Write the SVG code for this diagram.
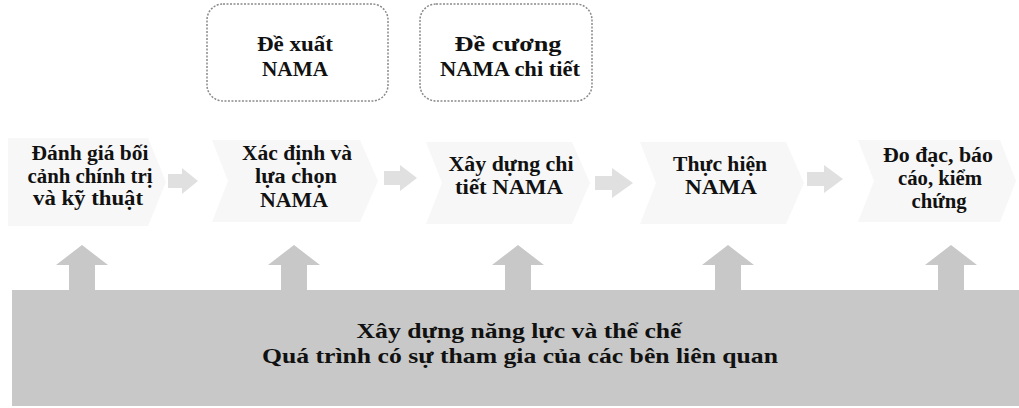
<svg xmlns="http://www.w3.org/2000/svg" width="1019" height="408" viewBox="0 0 1019 408">
<defs>
<style>
.t{font-family:"Liberation Serif","Times New Roman",serif;font-weight:bold;fill:#111111;text-anchor:middle}
.n{font-size:20px}
.b{font-size:21px}
.node{fill:#f7f7f7}
.box{fill:#ffffff;stroke:#8a8a8a;stroke-width:1.5;stroke-dasharray:2 1.5}
.harr{fill:#e0e0e0}
.varr{fill:#c8c8c8}
.band{fill:#c8c8c8}
</style>
</defs>
<rect width="1019" height="408" fill="#ffffff"/>
<g id="band">
<rect class="band" x="12" y="290" width="1007" height="116"/>
<text class="t b" x="519" y="338" textLength="325" lengthAdjust="spacingAndGlyphs">Xây dựng năng lực và thể chế</text>
<text class="t b" x="520" y="363" textLength="516" lengthAdjust="spacingAndGlyphs">Quá trình có sự tham gia của các bên liên quan</text>
</g>
<g id="connectors">
<path class="varr" d="M69,291 V265 H56 L82,245 L108,265 H95 V291 Z"/>
<path class="varr" d="M281,291 V265 H268 L294,245 L320,265 H307 V291 Z"/>
<path class="varr" d="M505,291 V265 H492 L518,245 L544,265 H531 V291 Z"/>
<path class="varr" d="M715,291 V265 H702 L728,245 L754,265 H741 V291 Z"/>
<path class="varr" d="M938,291 V265 H925 L951,245 L977,265 H964 V291 Z"/>
<path class="harr" d="M168,174 H182 V168 L198,181 L182,194 V188 H168 Z"/>
<path class="harr" d="M384,171 H400 V165 L417,178 L400,191 V185 H384 Z"/>
<path class="harr" d="M595,176 H612 V168 L633,183 L612,198 V190 H595 Z"/>
<path class="harr" d="M807,172 H824 V165 L843,179 L824,193 V186 H807 Z"/>
</g>
<g id="node1">
<path class="node" d="M8,138 H148 L166,182 L148,226 H8 Z"/>
<text class="t n" x="90" y="160" textLength="117" lengthAdjust="spacingAndGlyphs">Đánh giá bối</text>
<text class="t n" x="90" y="183" textLength="125" lengthAdjust="spacingAndGlyphs">cảnh chính trị</text>
<text class="t n" x="88" y="205" textLength="110" lengthAdjust="spacingAndGlyphs">và kỹ thuật</text>
</g>
<g id="node2">
<path class="node" d="M212,140 H360 L378,181 L360,222 H212 L228,181 Z"/>
<text class="t n" x="297" y="160" textLength="110" lengthAdjust="spacingAndGlyphs">Xác định và</text>
<text class="t n" x="296" y="183" textLength="82" lengthAdjust="spacingAndGlyphs">lựa chọn</text>
<text class="t n" x="294" y="207" textLength="68" lengthAdjust="spacingAndGlyphs">NAMA</text>
</g>
<g id="node3">
<path class="node" d="M426,142 H572 L590,183 L572,224 H426 L442,183 Z"/>
<text class="t n" x="511" y="171" textLength="125" lengthAdjust="spacingAndGlyphs">Xây dựng chi</text>
<text class="t n" x="509" y="194" textLength="108" lengthAdjust="spacingAndGlyphs">tiết NAMA</text>
</g>
<g id="node4">
<path class="node" d="M640,142 H786 L804,183 L786,224 H640 L656,183 Z"/>
<text class="t n" x="720" y="171" textLength="94" lengthAdjust="spacingAndGlyphs">Thực hiện</text>
<text class="t n" x="721" y="194" textLength="72" lengthAdjust="spacingAndGlyphs">NAMA</text>
</g>
<g id="node5">
<path class="node" d="M858,140 H1000 L1016,181 L1000,222 H858 L874,181 Z"/>
<text class="t n" x="938" y="162" textLength="110" lengthAdjust="spacingAndGlyphs">Đo đạc, báo</text>
<text class="t n" x="940" y="185" textLength="84" lengthAdjust="spacingAndGlyphs">cáo, kiểm</text>
<text class="t n" x="939" y="208" textLength="55" lengthAdjust="spacingAndGlyphs">chứng</text>
</g>
<g id="box1">
<rect class="box" x="207" y="4" width="181" height="97" rx="16"/>
<text class="t n" x="295" y="51" textLength="76" lengthAdjust="spacingAndGlyphs">Đề xuất</text>
<text class="t n" x="295" y="76" textLength="66" lengthAdjust="spacingAndGlyphs">NAMA</text>
</g>
<g id="box2">
<rect class="box" x="420" y="4" width="172" height="97" rx="16"/>
<text class="t n" x="508" y="51" textLength="107" lengthAdjust="spacingAndGlyphs">Đề cương</text>
<text class="t n" x="510" y="76" textLength="140" lengthAdjust="spacingAndGlyphs">NAMA chi tiết</text>
</g>
</svg>
